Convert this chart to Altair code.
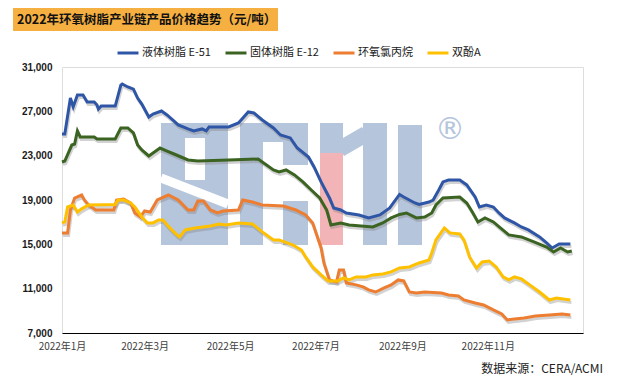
import altair as alt
import pandas as pd

series_names = ["液体树脂 E-51", "固体树脂 E-12", "环氧氯丙烷", "双酚A"]
series_colors = ["#2F56A6", "#3B6321", "#ED7D31", "#FFC000"]

e51_dates = ["2022/01/01", "2022/01/03", "2022/01/07", "2022/01/09", "2022/01/12", "2022/01/16",
             "2022/01/19", "2022/01/24", "2022/01/26", "2022/01/27", "2022/01/29", "2022/02/08",
             "2022/02/12", "2022/02/13", "2022/02/17", "2022/02/21", "2022/02/24", "2022/02/27",
             "2022/03/04", "2022/03/07", "2022/03/13", "2022/03/17", "2022/03/21", "2022/03/25",
             "2022/04/01", "2022/04/05", "2022/04/11", "2022/04/14", "2022/04/16", "2022/04/30",
             "2022/05/07", "2022/05/14", "2022/05/18", "2022/05/24", "2022/06/01", "2022/06/06",
             "2022/06/13", "2022/06/18", "2022/06/26", "2022/06/30", "2022/07/05", "2022/07/11",
             "2022/07/14", "2022/07/19", "2022/07/23", "2022/08/01", "2022/08/08", "2022/08/16",
             "2022/08/23", "2022/08/30", "2022/09/02", "2022/09/10", "2022/09/13", "2022/09/20",
             "2022/09/23", "2022/09/27", "2022/09/30", "2022/10/04", "2022/10/12", "2022/10/17",
             "2022/10/23", "2022/10/26", "2022/10/31", "2022/11/05", "2022/11/09", "2022/11/13",
             "2022/11/20", "2022/11/25", "2022/11/30", "2022/12/08", "2022/12/13", "2022/12/17",
             "2022/12/22", "2022/12/30"]
e51_values = [24950, 24950, 28200, 27400, 28470, 28470,
              27850, 27850, 27570, 27200, 27480, 27480,
              29370, 29470, 29200, 29000, 28200, 27660,
              26490, 26760, 27030, 26670, 26220, 25770,
              25410, 25230, 25410, 25230, 25590, 25590,
              25950, 26940, 26850, 26220, 25500, 24870,
              24600, 23690, 22880, 21980, 20630, 19180,
              18280, 18100, 17830, 17650, 17380, 17650,
              18280, 19500, 19270, 18730, 18600, 18820,
              19000, 19900, 20630, 20800, 20800, 20360,
              19270, 18370, 18550, 18370, 17830, 17380,
              16930, 16570, 16300, 15670, 15130, 14670,
              15040, 15040]

e12_dates = ["2022/01/01", "2022/01/03", "2022/01/08", "2022/01/10", "2022/01/12", "2022/01/14",
             "2022/01/24", "2022/01/26", "2022/02/08", "2022/02/12", "2022/02/17", "2022/02/21",
             "2022/02/24", "2022/02/27", "2022/03/04", "2022/03/07", "2022/03/12", "2022/03/17",
             "2022/03/22", "2022/03/27", "2022/04/01", "2022/04/08", "2022/04/30", "2022/05/21",
             "2022/05/25", "2022/06/01", "2022/06/05", "2022/06/10", "2022/06/16", "2022/06/22",
             "2022/06/28", "2022/07/04", "2022/07/09", "2022/07/12", "2022/07/19", "2022/07/25",
             "2022/08/11", "2022/08/18", "2022/08/24", "2022/08/30", "2022/09/04", "2022/09/11",
             "2022/09/17", "2022/09/22", "2022/09/25", "2022/09/30", "2022/10/12", "2022/10/17",
             "2022/10/21", "2022/10/25", "2022/10/30", "2022/11/05", "2022/11/10", "2022/11/16",
             "2022/11/25", "2022/12/04", "2022/12/13", "2022/12/18", "2022/12/23", "2022/12/28",
             "2022/12/31"]
e12_values = [22430, 22520, 23960, 24050, 25230, 24690,
              24690, 24500, 24500, 25500, 25500, 25050,
              23960, 23510, 22970, 23240, 23690, 23420,
              23150, 22880, 22610, 22520, 22600, 22700,
              22340, 21710, 21530, 21710, 21260, 20630,
              19900, 19180, 18100, 16750, 16930, 16750,
              16570, 16930, 17380, 17700, 17830, 17380,
              17470, 17830, 18550, 19180, 19270, 18730,
              17920, 17020, 17380, 17020, 16480, 15850,
              15670, 15220, 14760, 14310, 14670, 14310,
              14400]

ech_dates = ["2022/01/01", "2022/01/05", "2022/01/07", "2022/01/10", "2022/01/15", "2022/01/17",
             "2022/01/20", "2022/01/25", "2022/02/07", "2022/02/09", "2022/02/14", "2022/02/19",
             "2022/02/22", "2022/02/26", "2022/03/01", "2022/03/05", "2022/03/10", "2022/03/18",
             "2022/03/25", "2022/04/01", "2022/04/05", "2022/04/08", "2022/04/12", "2022/04/17",
             "2022/04/22", "2022/04/26", "2022/05/07", "2022/05/10", "2022/05/17", "2022/05/24",
             "2022/06/08", "2022/06/17", "2022/06/24", "2022/06/29", "2022/07/05", "2022/07/07",
             "2022/07/11", "2022/07/16", "2022/07/18", "2022/07/21", "2022/07/23", "2022/07/30",
             "2022/08/04", "2022/08/08", "2022/08/13", "2022/08/19", "2022/08/24", "2022/08/29",
             "2022/09/02", "2022/09/06", "2022/09/11", "2022/09/17", "2022/09/29", "2022/10/04",
             "2022/10/11", "2022/10/15", "2022/10/23", "2022/10/29", "2022/11/05", "2022/11/11",
             "2022/11/15", "2022/11/20", "2022/11/27", "2022/12/05", "2022/12/15", "2022/12/24",
             "2022/12/30"]
ech_values = [16020, 16020, 18100, 19180, 19450, 19000,
              18550, 18100, 18100, 19000, 19090, 18730,
              17830, 17470, 18010, 17920, 19000, 19450,
              19000, 18100, 18100, 18910, 18910, 18100,
              17830, 18010, 18100, 19000, 18820, 18550,
              18460, 18100, 17650, 16930, 14670, 13320,
              11790, 11610, 12690, 12690, 11520, 11340,
              11160, 10890, 10700, 11070, 11340, 11790,
              11700, 10700, 10610, 10700, 10610, 10430,
              10340, 9980, 9710, 9530, 9080, 8720,
              8180, 8270, 8360, 8540, 8630, 8720,
              8630]

bpa_dates = ["2022/01/01", "2022/01/03", "2022/01/05", "2022/01/09", "2022/01/12", "2022/01/15",
             "2022/01/20", "2022/02/08", "2022/02/10", "2022/02/14", "2022/02/19", "2022/02/22",
             "2022/02/27", "2022/03/03", "2022/03/07", "2022/03/11", "2022/03/14", "2022/03/19",
             "2022/03/24", "2022/03/26", "2022/03/30", "2022/04/06", "2022/04/17", "2022/04/23",
             "2022/04/28", "2022/05/07", "2022/05/17", "2022/05/24", "2022/06/01", "2022/06/05",
             "2022/06/15", "2022/06/21", "2022/06/24", "2022/06/29", "2022/07/05", "2022/07/10",
             "2022/07/17", "2022/07/21", "2022/07/25", "2022/07/30", "2022/08/06", "2022/08/11",
             "2022/08/18", "2022/08/24", "2022/08/30", "2022/09/06", "2022/09/13", "2022/09/20",
             "2022/09/22", "2022/09/25", "2022/10/01", "2022/10/05", "2022/10/12", "2022/10/15",
             "2022/10/19", "2022/10/24", "2022/10/28", "2022/11/02", "2022/11/07", "2022/11/12",
             "2022/11/16", "2022/11/20", "2022/11/25", "2022/12/01", "2022/12/08", "2022/12/15",
             "2022/12/20", "2022/12/30"]
bpa_values = [16930, 17020, 18370, 18550, 17920, 18200,
              18550, 18600, 19000, 19000, 18730, 18370,
              17470, 16930, 16930, 17200, 17200, 16480,
              15850, 15670, 16300, 16480, 16660, 16840,
              16750, 16930, 16840, 16120, 15400, 15400,
              14940, 14490, 13860, 12960, 12240, 11700,
              11700, 11970, 11790, 12060, 12060, 12240,
              12330, 12510, 12870, 12960, 13320, 13590,
              14220, 15400, 16480, 16030, 15940, 15400,
              13860, 12870, 13410, 13500, 12960, 12060,
              11790, 12060, 11880, 11340, 10700, 9980,
              10160, 9980]

y_ticks = [7000, 11000, 15000, 19000, 23000, 27000, 31000]
x_tick_months = [1, 3, 5, 7, 9, 11]

title_text = "2022年环氧树脂产业链产品价格趋势（元/吨）"
source_text = "数据来源：CERA/ACMI"
watermark_mark = "®"

frames = []
for name, d, v in [(series_names[0], e51_dates, e51_values),
                   (series_names[1], e12_dates, e12_values),
                   (series_names[2], ech_dates, ech_values),
                   (series_names[3], bpa_dates, bpa_values)]:
    frames.append(pd.DataFrame({"date": d, "price": v, "series": name}))
df = pd.concat(frames, ignore_index=True)

W, H = 521, 266
WM_BLUE = "#B5C5DB"
WM_PINK = "#F2B4B6"

# ---- decorative "ACMI" watermark (pixel pieces, relative to the plot area) ----
wm_blocks = pd.DataFrame([
    # A
    dict(x0=99, x1=166, y0=56, y1=178, c=WM_BLUE),
    dict(x0=123, x1=143, y0=71, y1=113, c="#FFFFFF"),
    # C
    dict(x0=178, x1=201, y0=56, y1=178, c=WM_BLUE),
    dict(x0=178, x1=246, y0=56, y1=75, c=WM_BLUE),
    dict(x0=221, x1=246, y0=56, y1=98, c=WM_BLUE),
    dict(x0=221, x1=246, y0=134, y1=178, c=WM_BLUE),
    # M
    dict(x0=258, x1=281, y0=56, y1=86, c=WM_BLUE),
    dict(x0=258, x1=281, y0=86, y1=178, c=WM_PINK),
    dict(x0=301, x1=325, y0=56, y1=178, c=WM_BLUE),
    # I
    dict(x0=336, x1=360, y0=58, y1=178, c=WM_BLUE),
])
wm_rects = alt.Chart(wm_blocks).mark_rect().encode(
    x=alt.X("x0:Q", scale=None), x2="x1:Q",
    y=alt.Y("y0:Q", scale=None), y2="y1:Q",
    color=alt.Color("c:N", scale=None),
)
wm_cut = alt.Chart(pd.DataFrame({"k": [0]})).mark_rule(
    color="#FFFFFF", strokeWidth=9
).encode(x=alt.value(99), y=alt.value(111), x2=alt.value(166), y2=alt.value(137))
wm_diag = alt.Chart(pd.DataFrame({"k": [0]})).mark_rule(
    color=WM_BLUE, strokeWidth=16, strokeCap="butt"
).encode(x=alt.value(278), y=alt.value(82), x2=alt.value(304), y2=alt.value(67))
wm_reg = alt.Chart(pd.DataFrame({"t": [watermark_mark]})).mark_text(
    font="DejaVu Sans", fontSize=30, color=WM_BLUE, align="center", baseline="middle"
).encode(text="t:N", x=alt.value(388), y=alt.value(63))

x_enc = alt.X(
    "date:T",
    scale=alt.Scale(domain=[alt.DateTime(year=2022, month=1, date=1),
                            alt.DateTime(year=2023, month=1, date=8)]),
    axis=alt.Axis(
        values=[alt.DateTime(year=2022, month=m, date=1) for m in x_tick_months],
        format="%Y年%-m月", labelFont="Noto Sans CJK SC", labelFontSize=10,
        labelColor="#404040", labelPadding=8, ticks=False, grid=False,
        domainColor="#000000", domainWidth=1, title=None, labelAngle=0,
        labelAlign="center", labelOverlap=False,
    ),
)
y_enc = alt.Y(
    "price:Q",
    scale=alt.Scale(domain=[7000, 31000], nice=False, zero=False),
    axis=alt.Axis(
        values=y_ticks, labelFont="Liberation Sans", labelFontWeight="bold",
        labelFontSize=10, labelColor="#1a1a1a", labelPadding=10, ticks=False,
        grid=False, domain=False, title=None,
    ),
)

shadow = alt.Chart(df).mark_line(
    strokeWidth=3, color="#7f7f7f", opacity=0.35, xOffset=1, yOffset=2.5
).encode(x=x_enc, y=y_enc, detail="series:N")

lines = alt.Chart(df).mark_line(strokeWidth=3).encode(
    x=x_enc,
    y=y_enc,
    color=alt.Color(
        "series:N",
        scale=alt.Scale(domain=series_names, range=series_colors),
        legend=alt.Legend(
            orient="none", legendX=54, legendY=-26, direction="horizontal",
            title=None, symbolType="stroke", symbolSize=441, symbolStrokeWidth=3,
            labelFont="Noto Sans CJK SC", labelFontSize=11, labelColor="#1a1a1a",
            columnPadding=8, labelOffset=2,
        ),
    ),
)

title_box = alt.Chart(pd.DataFrame({"t": [title_text]})).mark_rect(
    color="#F5B041"
).encode(x=alt.value(-49), x2=alt.value(216), y=alt.value(-59), y2=alt.value(-36))

title_mark = alt.Chart(pd.DataFrame({"t": [title_text]})).mark_text(
    align="left", baseline="middle", font="Noto Sans CJK SC", fontSize=12.5,
    fontWeight="bold", color="#111111"
).encode(text="t:N", x=alt.value(-45), y=alt.value(-47))

source_mark = alt.Chart(pd.DataFrame({"t": [source_text]})).mark_text(
    align="right", baseline="middle", font="Noto Sans CJK SC", fontSize=12,
    color="#222222"
).encode(text="t:N", x=alt.value(541), y=alt.value(302))

chart = alt.layer(
    title_box, title_mark, wm_rects, wm_cut, wm_diag, wm_reg, shadow, lines, source_mark
).resolve_scale(color="independent").properties(
    width=W, height=H, autosize="none",
    padding={"left": 62, "top": 67, "right": 46, "bottom": 44},
).configure_view(stroke=None).configure(background="white")

chart.save("out.html", embed_options={"renderer": "svg", "actions": False})
